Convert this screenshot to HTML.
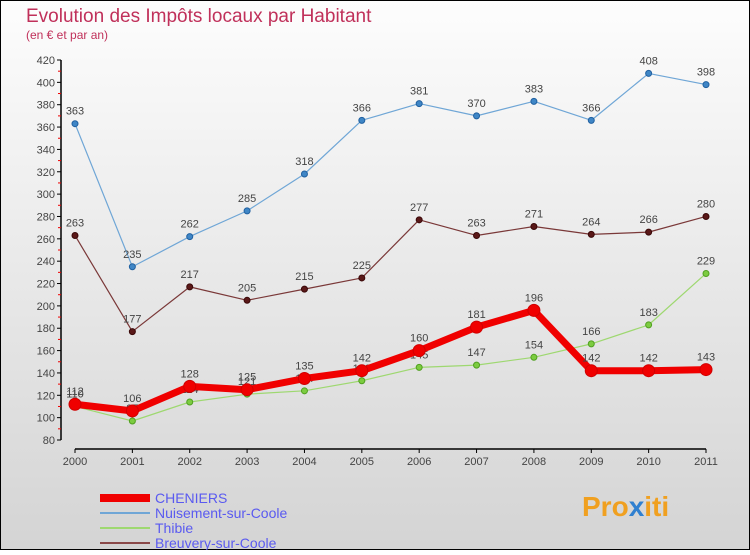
<!DOCTYPE html>
<html><head><meta charset="utf-8"><style>
html,body{margin:0;padding:0}
body{width:750px;height:550px;overflow:hidden;font-family:"Liberation Sans",sans-serif}
</style></head><body>
<svg id="chart" width="750" height="550" xmlns="http://www.w3.org/2000/svg">
<defs><linearGradient id="bg" x1="0" y1="0" x2="0" y2="1"><stop offset="0" stop-color="#fdfdfd"/><stop offset="1" stop-color="#d4d4d4"/></linearGradient></defs>
<rect x="0.5" y="0.5" width="749" height="549" fill="url(#bg)" stroke="#000"/>
<text x="26" y="22" font-size="19" fill="#c0305a">Evolution des Impôts locaux par Habitant</text>
<text x="26" y="39" font-size="12" fill="#c0305a">(en € et par an)</text>
<g id="axes"></g><g id="series"></g><g id="legend"></g>
<text x="582" y="516" font-size="28" font-weight="bold" fill="#f0a020">Pro<tspan fill="#3080d0">x</tspan>iti</text>
</svg>
<script>
const years=[2000,2001,2002,2003,2004,2005,2006,2007,2008,2009,2010,2011];
const yTicks=[80,100,120,140,160,180,200,220,240,260,280,300,320,340,360,380,400,420];
const cheniers=[112,106,128,125,135,142,160,181,196,142,142,143];
const nuisement=[363,235,262,285,318,366,381,370,383,366,408,398];
const thibie=[110,97,114,121,124,133,145,147,154,166,183,229];
const breuvery=[263,177,217,205,215,225,277,263,271,264,266,280];
const seriesNames=["CHENIERS","Nuisement-sur-Coole","Thibie","Breuvery-sur-Coole"];
const NS="http://www.w3.org/2000/svg";
const x=i=>75+i*(706-75)/11;
const y=v=>440-(v-80)*380/340;
function mk(tag,attrs,parent){const e=document.createElementNS(NS,tag);for(const k in attrs)e.setAttribute(k,attrs[k]);parent.appendChild(e);return e;}
const ax=document.getElementById('axes');
let e=mk('line',{x1:61,y1:60,x2:61,y2:440,stroke:'#000','stroke-width':1.5},ax);


e=mk('line',{x1:75,y1:449,x2:706,y2:449,stroke:'#000','stroke-width':1.5},ax);


yTicks.forEach(v=>{
 mk('line',{x1:57,y1:y(v),x2:61,y2:y(v),stroke:'#000'},ax);
 if(v<420)mk('line',{x1:58,y1:y(v+10),x2:61,y2:y(v+10),stroke:'#e00'},ax);
 const t=mk('text',{x:55,y:y(v)+4,'font-size':11,fill:'#444','text-anchor':'end'},ax);t.textContent=v;
 
 
});
years.forEach((yr,i)=>{
 mk('line',{x1:x(i),y1:449,x2:x(i),y2:453,stroke:'#000'},ax);
 const t=mk('text',{x:x(i),y:465,'font-size':11,fill:'#444','text-anchor':'middle'},ax);t.textContent=yr;
 
 
});
const sg=document.getElementById('series');
function draw(data,color,dot,w,r,name,dotStroke){
 const g=mk('g',{},sg);
 
 
 mk('polyline',{points:data.map((v,i)=>x(i)+','+y(v)).join(' '),fill:'none',stroke:color,'stroke-width':w,'stroke-linejoin':'round'},g);
 data.forEach((v,i)=>{
  const c=mk('circle',{cx:x(i),cy:y(v),r:r,fill:dot,stroke:dotStroke,'stroke-width':1},g);
  
  
  const t=mk('text',{x:x(i),y:y(v)-9,'font-size':11,fill:'#444','text-anchor':'middle'},g);t.textContent=v;
  
  
 });
}
draw(nuisement,'#6fa6d6','#3f86c6',1.2,3,'nuisement','#2060a0');
draw(breuvery,'#7a3838','#5a1818',1.2,3,'breuvery','#3a0808');
draw(thibie,'#9ed870','#7ccc40',1.2,3,'thibie','#50a020');
draw(cheniers,'#f00000','#f00000',7,6,'cheniers','#d00000');
const lg=document.getElementById('legend');
const lc=['#f00000','#6fa6d6','#9ed870','#8a4848'],lw=[8,2,2,2];
seriesNames.forEach((n,i)=>{
 const yy=494+i*15;
 const g=mk('g',{},lg);
 
 
 mk('line',{x1:100,y1:yy+4,x2:150,y2:yy+4,stroke:lc[i],'stroke-width':lw[i]},g);
 const t=mk('text',{x:155,y:yy+9,'font-size':14,fill:'#5a5af0'},g);t.textContent=n;
});
</script>
</body></html>
